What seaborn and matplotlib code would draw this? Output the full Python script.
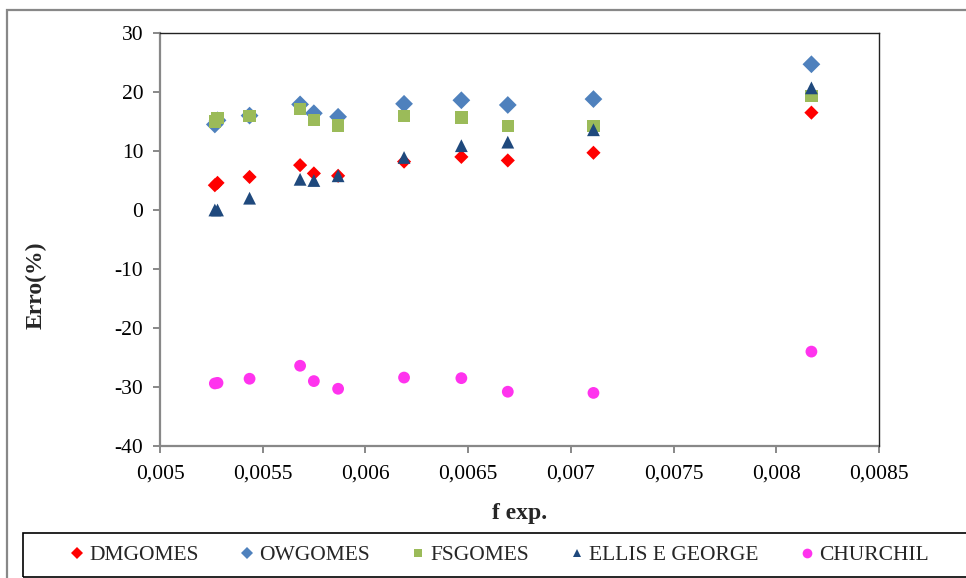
import matplotlib
matplotlib.use("Agg")
import matplotlib.pyplot as plt
from matplotlib.lines import Line2D
from matplotlib.patches import Rectangle
from matplotlib.ticker import FuncFormatter, MultipleLocator
import pandas as pd
import seaborn as sns

# friction factor (experimental) shared by all series
F_EXP = [0.005267, 0.00528, 0.005436, 0.005682, 0.005749, 0.005867,
         0.006188, 0.006467, 0.006693, 0.00711, 0.008171]

# error (%) per correlation
DMGOMES = [4.2, 4.6, 5.6, 7.6, 6.2, 5.8, 8.2, 9.0, 8.4, 9.7, 16.5]
OWGOMES = [14.5, 15.2, 16.0, 17.9, 16.4, 15.8, 18.0, 18.6, 17.8, 18.8, 24.7]
FSGOMES = [15.0, 15.6, 15.9, 17.1, 15.3, 14.3, 15.9, 15.7, 14.2, 14.2, 19.3]
ELLIS = [0.0, 0.0, 2.0, 5.2, 5.0, 5.8, 8.9, 10.9, 11.5, 13.6, 20.7]
CHURCHIL = [-29.4, -29.3, -28.6, -26.4, -29.0, -30.3, -28.4, -28.5, -30.8, -31.0, -24.0]

SERIES = ["DMGOMES", "OWGOMES", "FSGOMES", "ELLIS E GEORGE", "CHURCHIL"]
VALUES = [DMGOMES, OWGOMES, FSGOMES, ELLIS, CHURCHIL]

colors = {"DMGOMES": "#FF0000", "OWGOMES": "#4F81BD", "FSGOMES": "#9BBB59",
          "ELLIS E GEORGE": "#1F497D", "CHURCHIL": "#FF33EE"}
markers = {"DMGOMES": "D", "OWGOMES": "D", "FSGOMES": "s",
           "ELLIS E GEORGE": "^", "CHURCHIL": "o"}
sizes = {"DMGOMES": 52, "OWGOMES": 82, "FSGOMES": 80,
         "ELLIS E GEORGE": 85, "CHURCHIL": 72}

df = pd.concat([pd.DataFrame({"f": F_EXP, "erro": v, "serie": name})
                for name, v in zip(SERIES, VALUES)], ignore_index=True)

sns.set_style("white")
plt.rcParams["font.family"] = ["Liberation Serif", "DejaVu Serif"]
plt.rcParams["axes.unicode_minus"] = False

W, H = 966, 578
fig = plt.figure(figsize=(W / 100, H / 100), dpi=100)
ax = fig.add_axes([160 / W, 1 - 446 / H, (879 - 160) / W, (446 - 33) / H])

sns.scatterplot(data=df, x="f", y="erro", hue="serie", style="serie", size="serie",
                palette=colors, markers=markers, sizes=sizes,
                linewidth=0, alpha=1, legend=False, ax=ax)

ax.set_xlim(0.005, 0.0085)
ax.set_ylim(-40, 30)
ax.xaxis.set_major_locator(MultipleLocator(0.0005))
ax.yaxis.set_major_locator(MultipleLocator(10))
ax.xaxis.set_major_formatter(FuncFormatter(lambda v, p: f"{v:g}".replace(".", ",")))
ax.yaxis.set_major_formatter(FuncFormatter(lambda v, p: f"{v:g}"))

for side in ["top", "right"]:
    ax.spines[side].set_color("#222222")
    ax.spines[side].set_linewidth(1.0)
for side in ["left", "bottom"]:
    ax.spines[side].set_color("#888888")
    ax.spines[side].set_linewidth(1.6)
    ax.spines[side].set_zorder(0.5)

ax.tick_params(axis="both", direction="out", length=5, width=1.4, color="#888888",
               labelsize=15.5, labelcolor="black")
ax.tick_params(axis="y", pad=7, left=True)
ax.tick_params(axis="x", pad=8, bottom=True)

ax.set_xlabel("f exp.", fontsize=17, fontweight="bold", labelpad=14)
ax.set_ylabel("Erro(%)", fontsize=17, fontweight="bold")
ax.yaxis.set_label_coords(-0.158, 0.39)

# outer chart frame and legend box (both run past the image edge)
fig.patches.append(Rectangle((7 / W, 1 - 600 / H), 1, (600 - 10) / H,
                             transform=fig.transFigure, fill=False,
                             edgecolor="#888888", linewidth=1.6))
fig.patches.append(Rectangle((23 / W, 1 - 577 / H), 1, (577 - 533) / H,
                             transform=fig.transFigure, fill=False,
                             edgecolor="black", linewidth=1.2))

handles = [Line2D([], [], linestyle="none", marker=markers[n], color=colors[n],
                  markersize=6 if n != "CHURCHIL" else 7, markeredgewidth=0)
           for n in SERIES]
fig.legend(handles, SERIES, loc="center left", bbox_to_anchor=(71 / W, 1 - 555 / H),
           ncol=5, frameon=False, fontsize=15.5, handlelength=0.6, handletextpad=0.25,
           columnspacing=1.95, borderpad=0, borderaxespad=0)

fig.savefig("out.png", dpi=100)
